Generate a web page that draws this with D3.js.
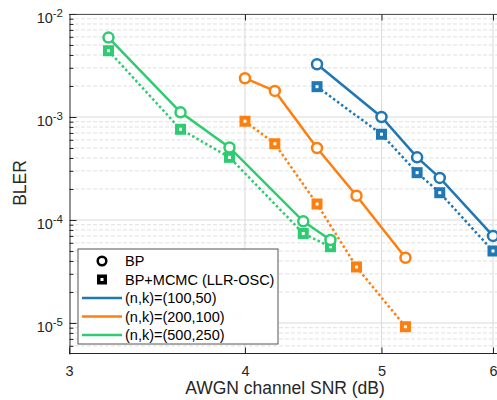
<!DOCTYPE html>
<html>
<head>
<meta charset="utf-8">
<script src="https://cdn.jsdelivr.net/npm/d3@7"></script>
<style>
  body { margin: 0; background: #fff; }
  svg { display: block; font-family: "Liberation Sans", Arial, sans-serif; }
</style>
</head>
<body>
<svg id="chart" width="497" height="400"></svg>
<script>
// values
let snrBlue = [4.5, 5.0, 5.3, 5.5, 6.0];
let bpBlue = [3.25e-3, 1.0e-3, 4.06e-4, 2.56e-4, 7.0e-5];
let mcmcBlue = [1.97e-3, 6.8e-4, 2.88e-4, 1.84e-4, 5.0e-5];

let snrOrange = [4.0, 4.2, 4.5, 4.8, 5.2];
let bpOrange = [2.38e-3, 1.79e-3, 5.0e-4, 1.72e-4, 4.3e-5];
let mcmcOrange = [9.1e-4, 5.5e-4, 1.43e-4, 3.5e-5, 9.2e-6];

let snrGreen = [3.2, 3.6, 3.9, 4.4, 4.6];
let bpGreen = [5.9e-3, 1.11e-3, 5.06e-4, 9.7e-5, 6.4e-5];
let mcmcGreen = [4.4e-3, 7.6e-4, 4.06e-4, 7.4e-5, 5.5e-5];

let xTicks = [3, 4, 5, 6];
let yDecades = [-5, -4, -3, -2];
let legendLabels = ["BP", "BP+MCMC (LLR-OSC)", "(n,k)=(100,50)", "(n,k)=(200,100)", "(n,k)=(500,250)"];

let colors = { blue: "#1f77b4", orange: "#ff7f0e", green: "#2ecc71" };

let margins = { left: 69, right: 493, top: 14, bottom: 354 };
let plotRight = 497;

let xScale = d3.scaleLog().domain([3, 6]).range([margins.left, margins.right]);
let yScale = d3.scaleLog().domain([5e-6, 1e-2]).range([margins.bottom, margins.top]);

let svg = d3.select("#chart");

// minor y values 2..9 per decade
let minorY = [];
yDecades.concat([-6]).forEach(function(e) {
  for (let m = 2; m <= 9; m++) {
    let v = m * Math.pow(10, e);
    if (v >= 5e-6 && v < 1e-2) minorY.push(v);
  }
});
let majorY = yDecades.map(function(e) { return Math.pow(10, e); });

// grid
let grid = svg.append("g");
grid.selectAll(".minor").data(minorY).enter().append("line")
  .attr("x1", margins.left).attr("x2", plotRight)
  .attr("y1", function(d) { return yScale(d); })
  .attr("y2", function(d) { return yScale(d); })
  .style("stroke", "#e0e0e0").style("stroke-width", 1)
  .style("stroke-dasharray", "4,2");
grid.selectAll(".major").data(majorY).enter().append("line")
  .attr("x1", margins.left).attr("x2", plotRight)
  .attr("y1", function(d) { return yScale(d); })
  .attr("y2", function(d) { return yScale(d); })
  .style("stroke", "#dadada").style("stroke-width", 1);
grid.selectAll(".vmajor").data(xTicks.slice(1)).enter().append("line")
  .attr("x1", function(d) { return xScale(d); })
  .attr("x2", function(d) { return xScale(d); })
  .attr("y1", margins.top).attr("y2", margins.bottom)
  .style("stroke", "#dadada").style("stroke-width", 1);

// series
let series = [
  { snr: snrBlue, bp: bpBlue, mcmc: mcmcBlue, color: colors.blue },
  { snr: snrOrange, bp: bpOrange, mcmc: mcmcOrange, color: colors.orange },
  { snr: snrGreen, bp: bpGreen, mcmc: mcmcGreen, color: colors.green }
];

let line = d3.line()
  .x(function(d) { return xScale(d[0]); })
  .y(function(d) { return yScale(d[1]); });

series.forEach(function(s) {
  let bpPts = s.snr.map(function(x, i) { return [x, s.bp[i]]; });
  let mcPts = s.snr.map(function(x, i) { return [x, s.mcmc[i]]; });
  let g = svg.append("g");

  g.append("path")
    .attr("d", line(mcPts))
    .style("fill", "none")
    .style("stroke", s.color)
    .style("stroke-width", 2.5)
    .style("stroke-dasharray", "2.5,2.5");
  g.append("path")
    .attr("d", line(bpPts))
    .style("fill", "none")
    .style("stroke", s.color)
    .style("stroke-width", 2.5);

  g.selectAll(".sq").data(mcPts).enter().append("rect")
    .attr("x", function(d) { return xScale(d[0]) - 5.5; })
    .attr("y", function(d) { return yScale(d[1]) - 5.5; })
    .attr("width", 11).attr("height", 11)
    .style("fill", s.color);
  g.selectAll(".sqdot").data(mcPts).enter().append("rect")
    .attr("x", function(d) { return xScale(d[0]) - 1.5; })
    .attr("y", function(d) { return yScale(d[1]) - 1.5; })
    .attr("width", 3).attr("height", 3)
    .style("fill", "#fff");

  g.selectAll(".ci").data(bpPts).enter().append("circle")
    .attr("cx", function(d) { return xScale(d[0]); })
    .attr("cy", function(d) { return yScale(d[1]); })
    .attr("r", 5)
    .style("fill", "#fff")
    .style("stroke", s.color)
    .style("stroke-width", 2.5);
});

// axes
let axisColor = "#262626";

let xAxis = d3.axisBottom(xScale).tickValues(xTicks).tickFormat(d3.format("d"))
  .tickSizeInner(-6).tickSizeOuter(0).tickPadding(12);
let gx = svg.append("g")
  .attr("transform", "translate(0," + (margins.bottom - 0.5) + ")")
  .call(xAxis);
gx.select(".domain").attr("d", "M" + margins.left + ",0H" + plotRight).style("stroke", axisColor);
gx.selectAll(".tick line").style("stroke", axisColor);
gx.selectAll("text").style("font-size", "14.5px").style("fill", "#262626")
  .style("font-family", "'Liberation Sans', Arial, sans-serif");

let xTop = d3.axisTop(xScale).tickValues(xTicks.slice(1)).tickFormat("")
  .tickSizeInner(-6).tickSizeOuter(0);
let gxt = svg.append("g")
  .attr("transform", "translate(0," + (margins.top + 0.5) + ")")
  .call(xTop);
gxt.select(".domain").attr("d", "M" + margins.left + ",0H" + plotRight).style("stroke", "#555");
gxt.selectAll(".tick line").style("stroke", axisColor);

let yMinor = d3.axisLeft(yScale).tickValues(minorY).tickFormat("")
  .tickSizeInner(-4).tickSizeOuter(0);
let gym = svg.append("g")
  .attr("transform", "translate(" + (margins.left + 0.5) + ",0)")
  .call(yMinor);
gym.select(".domain").remove();
gym.selectAll(".tick line").style("stroke", axisColor);

let yAxis = d3.axisLeft(yScale).tickValues(majorY).tickFormat("")
  .tickSizeInner(-7).tickSizeOuter(0);
let gy = svg.append("g")
  .attr("transform", "translate(" + (margins.left + 0.5) + ",0)")
  .call(yAxis);
gy.select(".domain").style("stroke", axisColor);
gy.selectAll(".tick line").style("stroke", axisColor);

let yLabels = svg.append("g").selectAll("text").data(yDecades).enter().append("text")
  .attr("x", 63)
  .attr("y", function(d) { return yScale(Math.pow(10, d)) + 9; })
  .attr("text-anchor", "end")
  .style("fill", "#262626");
yLabels.append("tspan").style("font-size", "14.5px").text("10");
yLabels.append("tspan").attr("dy", -6).style("font-size", "11.5px")
  .text(function(d) { return String(d); });

// axis titles
svg.append("text")
  .attr("x", (margins.left + margins.right) / 2 + 4)
  .attr("y", 394)
  .attr("text-anchor", "middle")
  .style("font-size", "17.5px").style("fill", "#262626")
  .text("AWGN channel SNR (dB)");
svg.append("text")
  .attr("transform", "translate(26," + 183 + ") rotate(-90)")
  .attr("text-anchor", "middle")
  .style("font-size", "17.5px").style("fill", "#262626")
  .text("BLER");

// legend
let lg = svg.append("g").attr("transform", "translate(78,249)");
lg.append("rect").attr("width", 200).attr("height", 95)
  .style("fill", "#fff").style("stroke", "#555").style("stroke-width", 1);
let rowY = function(i) { return 12 + i * 18.5; };

lg.append("circle").attr("cx", 24).attr("cy", rowY(0)).attr("r", 4.3)
  .style("fill", "#fff").style("stroke", "#000").style("stroke-width", 2.5);
lg.append("rect").attr("x", 19).attr("y", rowY(1) - 5).attr("width", 10).attr("height", 10)
  .style("fill", "#000");
lg.append("rect").attr("x", 22.5).attr("y", rowY(1) - 1.5).attr("width", 3).attr("height", 3)
  .style("fill", "#fff");
[colors.blue, colors.orange, colors.green].forEach(function(c, i) {
  lg.append("line").attr("x1", 4).attr("x2", 44)
    .attr("y1", rowY(i + 2)).attr("y2", rowY(i + 2))
    .style("stroke", c).style("stroke-width", 2.5);
});
lg.selectAll(".lt").data(legendLabels).enter().append("text")
  .attr("x", 47)
  .attr("y", function(d, i) { return rowY(i) + 5; })
  .style("font-size", "14.5px").style("fill", "#000")
  .text(function(d) { return d; });
</script>
</body>
</html>
